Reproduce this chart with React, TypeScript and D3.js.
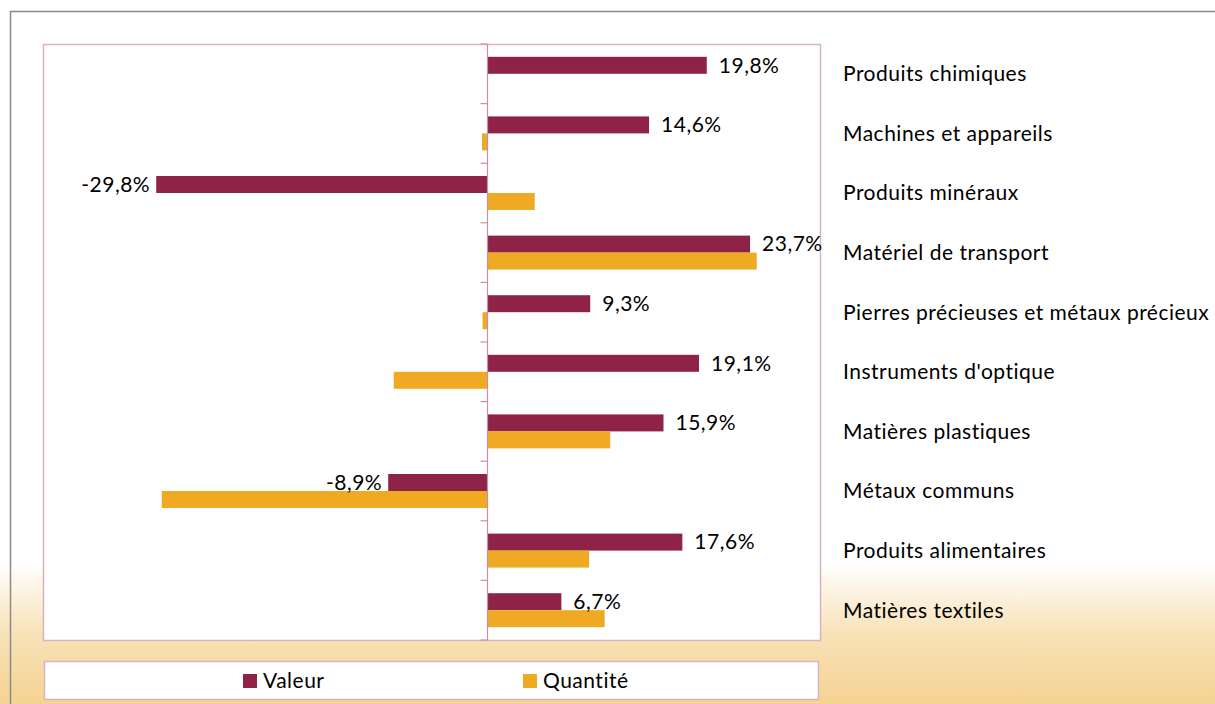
import * as d3 from "d3";
import { useEffect, useRef } from "react";

// ---- données ----
const categories = [
  "Produits chimiques",
  "Machines et appareils",
  "Produits minéraux",
  "Matériel de transport",
  "Pierres précieuses et métaux précieux",
  "Instruments d'optique",
  "Matières plastiques",
  "Métaux communs",
  "Produits alimentaires",
  "Matières textiles",
];
const valeur = [19.8, 14.6, -29.8, 23.7, 9.3, 19.1, 15.9, -8.9, 17.6, 6.7];
const quantite = [0, -0.45, 4.3, 24.3, -0.4, -8.4, 11.1, -29.3, 9.2, 10.6];
const seriesNames = ["Valeur", "Quantité"];

const colors = ["#8e2347", "#f0a922"];
const FONT = "Lato, 'Open Sans', sans-serif";
const FS = 21;
const LS = 0.5;

export default function App() {
  const ref = useRef<SVGSVGElement>(null);

  useEffect(() => {
    const width = 1215;
    const height = 704;
    const plot = { left: 43, right: 820, top: 44, bottom: 640 };

    const svg = d3.select(ref.current);
    svg.selectAll("*").remove();
    svg.attr("viewBox", `0 0 ${width} ${height}`);

    // ---- fond dégradé ----
    const defs = svg.append("defs");
    const grad = defs
      .append("linearGradient")
      .attr("id", "bg")
      .attr("x1", 0)
      .attr("y1", 0)
      .attr("x2", 0)
      .attr("y2", 1);
    grad.append("stop").attr("offset", "0.8").attr("stop-color", "#ffffff");
    grad.append("stop").attr("offset", "0.9").attr("stop-color", "#f8e2b8");
    grad.append("stop").attr("offset", "1").attr("stop-color", "#f6d392");

    svg.append("rect").attr("width", width).attr("height", height).attr("fill", "url(#bg)");

    // cadre gris extérieur
    svg
      .append("path")
      .attr("d", `M10.5,${height} V11.5 H${width}`)
      .attr("fill", "none")
      .attr("stroke", "#8a8a8a")
      .attr("stroke-width", 1.5);

    // ---- échelles ----
    const x = d3.scaleLinear().domain([-40, 30]).range([plot.left, plot.right]);
    const y = d3
      .scaleBand<string>()
      .domain(categories)
      .range([plot.top, plot.bottom])
      .paddingInner(0.43)
      .paddingOuter(0.215);
    const ySub = d3.scaleBand<number>().domain([0, 1]).range([0, y.bandwidth()]);

    // zone de tracé
    svg
      .append("rect")
      .attr("x", plot.left + 0.5)
      .attr("y", plot.top + 0.5)
      .attr("width", plot.right - plot.left)
      .attr("height", plot.bottom - plot.top)
      .attr("fill", "#ffffff")
      .attr("stroke", "#d9b3c3")
      .attr("stroke-width", 1.5);

    const g = svg.append("g");

    // ---- barres ----
    const seriesData = [valeur, quantite];
    seriesData.forEach((vals, s) => {
      g.append("g")
        .selectAll("rect")
        .data(vals)
        .join("rect")
        .attr("x", (d) => x(Math.min(0, d)))
        .attr("width", (d) => Math.abs(x(d) - x(0)))
        .attr("y", (_, i) => (y(categories[i]) as number) + (ySub(s) as number))
        .attr("height", ySub.bandwidth())
        .attr("fill", colors[s]);
    });

    // ---- axe vertical (zéro) ----
    const x0 = Math.round(x(0)) + 0.5;
    g.append("line")
      .attr("x1", x0)
      .attr("x2", x0)
      .attr("y1", plot.top)
      .attr("y2", plot.bottom)
      .attr("stroke", "#c98fa8")
      .attr("stroke-width", 1.2);

    const step = (plot.bottom - plot.top) / categories.length;
    g.append("g")
      .selectAll("line")
      .data(d3.range(categories.length + 1))
      .join("line")
      .attr("x1", x0 - 7)
      .attr("x2", x0)
      .attr("y1", (i) => plot.top + i * step)
      .attr("y2", (i) => plot.top + i * step)
      .attr("stroke", "#c98fa8")
      .attr("stroke-width", 1.2);

    // ---- étiquettes de valeurs ----
    const fmt = (v: number) => `${v.toFixed(1).replace(".", ",")}%`;
    g.append("g")
      .selectAll("text")
      .data(valeur)
      .join("text")
      .attr("x", (d) => (d >= 0 ? x(d) + 12 : x(d) - 6))
      .attr("y", (_, i) => (y(categories[i]) as number) + ySub.bandwidth() / 2)
      .attr("dy", "0.35em")
      .attr("text-anchor", (d) => (d >= 0 ? "start" : "end"))
      .attr("font-family", FONT)
      .attr("font-size", FS)
      .attr("letter-spacing", LS)
      .attr("fill", "#000")
      .text((d) => fmt(d));

    // ---- libellés des catégories ----
    g.append("g")
      .selectAll("text")
      .data(categories)
      .join("text")
      .attr("x", 843)
      .attr("y", (d) => (y(d) as number) + y.bandwidth() / 2)
      .attr("dy", "0.35em")
      .attr("font-family", FONT)
      .attr("font-size", FS)
      .attr("letter-spacing", LS)
      .attr("fill", "#000")
      .text((d) => d);

    // ---- légende ----
    const legend = svg.append("g");
    legend
      .append("rect")
      .attr("x", 44.5)
      .attr("y", 661.5)
      .attr("width", 774)
      .attr("height", 38)
      .attr("fill", "#ffffff")
      .attr("stroke", "#d9b3c3")
      .attr("stroke-width", 1.5);
    const legendX = [243, 523];
    seriesNames.forEach((name, i) => {
      legend
        .append("rect")
        .attr("x", legendX[i])
        .attr("y", 674)
        .attr("width", 14)
        .attr("height", 14)
        .attr("fill", colors[i]);
      legend
        .append("text")
        .attr("x", legendX[i] + 20)
        .attr("y", 681)
        .attr("dy", "0.35em")
        .attr("font-family", FONT)
        .attr("font-size", FS)
        .attr("letter-spacing", LS)
        .attr("fill", "#000")
        .text(name);
    });
  }, []);

  return (
    <svg
      ref={ref}
      width={1215}
      height={704}
      style={{ position: "absolute", left: 0, top: 0, display: "block" }}
    />
  );
}
